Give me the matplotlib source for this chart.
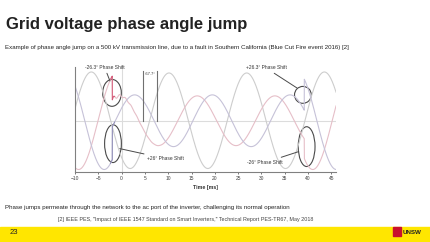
"""Slide: grid voltage phase angle jump (Blue Cut Fire event, 500 kV line)."""
import numpy as np
import matplotlib.pyplot as plt
from matplotlib.patches import Ellipse, Rectangle

plt.rcParams['font.family'] = ['Liberation Sans', 'DejaVu Sans']

# values (time in ms, voltage in per unit)
x_ticks = [-10, -5, 0, 5, 10, 15, 20, 25, 30, 35, 40, 45]
fault_on, fault_off = -2.0, 39.2
period_ms = 1000 / 60
phase_names = ['a', 'b', 'c']
# peak time (ms) of each phase: before the fault, during it, after clearing
peak_times = {'a': [-6.5, -6.5, -6.5], 'b': [-0.9, -0.45, -0.65], 'c': [4.6, 2.8, 4.4]}
amplitudes = {'a': [0.98, 0.96, 0.98], 'b': [0.98, 0.5, 0.98], 'c': [0.98, 0.52, 0.98]}
line_colors = {'a': '#cdcdcd', 'b': '#e6bfc8', 'c': '#c6c2d8'}
ringing = [0.05, 0.8, 2.5]  # amplitude, cycles per ms, decay (ms) on phase b after the jump
bracket_t = [4.56, 7.56]

# ellipse marks: centre t, centre v, width (ms), height (pu)
marks = [(-2.06, 0.56, 4.0, 0.54), (-1.85, -0.46, 3.6, 0.76),
         (38.9, 0.52, 3.6, 0.34), (39.7, -0.52, 3.6, 0.80)]
labels = ['-26.3° Phase Shift', '+26° Phase Shift', '+26.3° Phase Shift', '-26° Phase Shift']
label_xy = [(-3.6, 1.06), (5.4, -0.76), (31.0, 1.06), (34.6, -0.84)]
label_ha = ['center', 'left', 'center', 'right']
leader_end = [(-2.5, 0.80), (-0.4, -0.56), (37.6, 0.66), (38.0, -0.62)]

t = np.linspace(-10, 46, 3000)
seg = np.digitize(t, [fault_on, fault_off])


def wave(name):
    pk = np.array(peak_times[name])[seg]
    amp = np.array(amplitudes[name])[seg]
    return amp * np.cos(2 * np.pi * (t - pk) / period_ms)


fig = plt.figure(figsize=(4.30, 2.42), dpi=100)
fig.patch.set_facecolor('white')
ax = fig.add_axes([75 / 430, 70 / 242, 261 / 430, 105 / 242])

ax.axhline(0, color='#dcdcdc', lw=0.8, zorder=0)
ax.axvline(0, color='#dcdcdc', lw=0.8, zorder=0)

curves = {n: wave(n) for n in phase_names}
after = t > fault_on
amp, freq, tau = ringing
curves['b'][after] += amp * np.exp(-(t[after] - fault_on) / tau) * np.sin(2 * np.pi * freq * (t[after] - fault_on))
for n in phase_names:
    ax.plot(t, curves[n], color=line_colors[n], lw=0.8)

# the jump itself is highlighted on the original trace
m = (t > fault_on - 0.4) & (t < fault_on + 0.5)
ax.plot(t[m], curves['b'][m], color='#d65a78', lw=0.7)
ax.plot(t[m], curves['c'][m], color='#8e8cb6', lw=0.7)

for (cx, cy, w, h) in marks:
    ax.add_patch(Ellipse((cx, cy), w, h, fill=False, ec='#4a4a4a', lw=0.8))
for txt, xy, ha, end in zip(labels, label_xy, label_ha, leader_end):
    ax.annotate(txt, xy=end, xytext=xy, ha=ha, va='center', fontsize=3.5, color='#333333',
                arrowprops=dict(arrowstyle='-', color='#4a4a4a', lw=0.7, shrinkA=0, shrinkB=0),
                annotation_clip=False)

for bt in bracket_t:
    ax.plot([bt, bt], [0, 1.0], color='#707070', lw=0.8)
ax.text(sum(bracket_t) / 2, 0.94, '-67.7°', ha='center', va='center', fontsize=3, color='#333333')

ax.set_xlim(-10, 46)
ax.set_ylim(-1.03, 1.08)
ax.set_xticks(x_ticks)
ax.set_yticks([])
ax.tick_params(axis='x', labelsize=3.5, colors='#404040', length=1.5, width=0.5, pad=1.5)
for s in ['top', 'right']:
    ax.spines[s].set_visible(False)
for s in ['left', 'bottom']:
    ax.spines[s].set_color('#808080')
    ax.spines[s].set_linewidth(0.8)
ax.set_xlabel('Time [ms]', fontsize=3.8, weight='bold', color='#333333', labelpad=3)

# slide furniture
fig.text(6 / 430, 1 - 24 / 242, 'Grid voltage phase angle jump', fontsize=12, weight='bold',
         color='#222222', va='center')
fig.text(5 / 430, 1 - 47 / 242, 'Example of phase angle jump on a 500 kV transmission line, due to a fault in '
         'Southern California (Blue Cut Fire event 2016) [2]', fontsize=4.4, color='#222222', va='center')
fig.text(5 / 430, 1 - 207 / 242, 'Phase jumps permeate through the network to the ac port of the inverter, '
         'challenging its normal operation', fontsize=4.4, color='#222222', va='center')
fig.text(58 / 430, 1 - 219 / 242, '[2] IEEE PES, "Impact of IEEE 1547 Standard on Smart Inverters," '
         'Technical Report PES-TR67, May 2018', fontsize=3.9, color='#444444', va='center')
fig.patches.append(Rectangle((0, 0), 1, 15 / 242, transform=fig.transFigure, color='#ffe600', zorder=0))
fig.text(10 / 430, 1 - 233 / 242, '23', fontsize=5.5, color='#222222', va='center')
fig.patches.append(Rectangle((393 / 430, 6 / 242), 8 / 430, 9 / 242, transform=fig.transFigure,
                             color='#c8102e', zorder=1))
fig.text(403 / 430, 1 - 232 / 242, 'UNSW', fontsize=4.5, color='#222222', va='center', weight='bold')

plt.savefig('out.png', dpi=100)
